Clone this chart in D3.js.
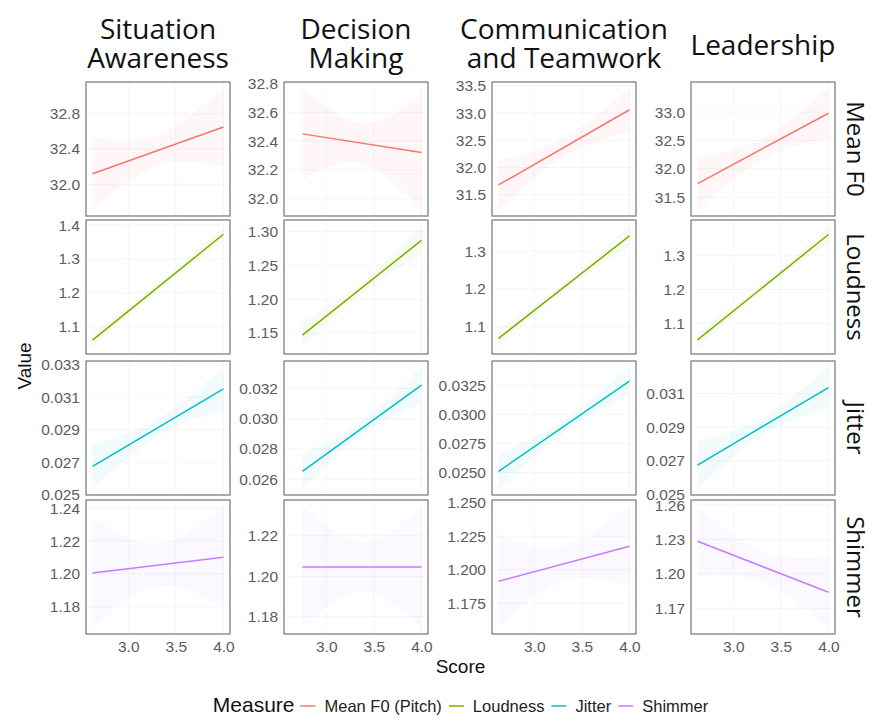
<!DOCTYPE html>
<html>
<head>
<meta charset="utf-8">
<script src="https://cdn.jsdelivr.net/npm/d3@7"></script>
<style>
body { margin: 0; background: #fff; }
</style>
</head>
<body>
<div id="chart"></div>
<script>
// facets: columns are skills, rows are voice measures
var skills = [["Situation", "Awareness"], ["Decision", "Making"], ["Communication", "and Teamwork"], ["Leadership"]]
var measures = ["Mean F0", "Loudness", "Jitter", "Shimmer"]
var legendLabels = ["Mean F0 (Pitch)", "Loudness", "Jitter", "Shimmer"]
var colors = ["#F8766D", "#7CAE00", "#00BFC4", "#C77CFF"]

// score range of each skill column
var scoreStart = [2.625, 2.75, 2.625, 2.625]
var scoreEnd = [4.0, 4.0, 4.0, 4.0]
var xTicks = [3.0, 3.5, 4.0]

// fitted line ends, rows = measures, cols = skills
var fitStart = [
    [32.12, 32.45, 31.68, 31.74],
    [1.061, 1.147, 1.069, 1.051],
    [0.02673, 0.02651, 0.02509, 0.02674],
    [1.2006, 1.2046, 1.1913, 1.2285]
]
var fitEnd = [
    [32.65, 32.32, 33.06, 32.98],
    [1.373, 1.287, 1.34, 1.363],
    [0.03152, 0.03222, 0.03285, 0.03136],
    [1.2102, 1.2046, 1.2175, 1.184]
]

// confidence band at start, middle, end of score range
var bandLow = [
    [[31.709, 32.215, 32.209], [32.132, 32.245, 31.922], [31.222, 32.2, 32.662], [31.277, 32.18, 32.537]],
    [[1.038, 1.207, 1.349], [1.128, 1.209, 1.266], [1.044, 1.1945, 1.314], [1.027, 1.197, 1.338]],
    [[0.02534, 0.02863, 0.03017], [0.02535, 0.02892, 0.03102], [0.02359, 0.02847, 0.03165], [0.02532, 0.02855, 0.03014]],
    [[1.1671, 1.1924, 1.1791], [1.1745, 1.1926, 1.1745], [1.1565, 1.1914, 1.1875], [1.1979, 1.19325, 1.1529]]
]
var bandHigh = [
    [[32.531, 32.555, 33.091], [32.768, 32.525, 32.718], [32.138, 32.54, 33.458], [32.203, 32.54, 33.423]],
    [[1.084, 1.227, 1.397], [1.166, 1.225, 1.308], [1.094, 1.2145, 1.366], [1.075, 1.217, 1.388]],
    [[0.02812, 0.02963, 0.03287], [0.02767, 0.02982, 0.03342], [0.02659, 0.02947, 0.03406], [0.02816, 0.02955, 0.03258]],
    [[1.2341, 1.2184, 1.2413], [1.2347, 1.2166, 1.2347], [1.2261, 1.2174, 1.2475], [1.2591, 1.21925, 1.2151]]
]

var yTicks = [
    [[32.0, 32.4, 32.8], [32.0, 32.2, 32.4, 32.6, 32.8], [31.5, 32.0, 32.5, 33.0, 33.5], [31.5, 32.0, 32.5, 33.0]],
    [[1.1, 1.2, 1.3, 1.4], [1.15, 1.20, 1.25, 1.30], [1.1, 1.2, 1.3], [1.1, 1.2, 1.3]],
    [[0.025, 0.027, 0.029, 0.031, 0.033], [0.026, 0.028, 0.030, 0.032], [0.0250, 0.0275, 0.0300, 0.0325], [0.025, 0.027, 0.029, 0.031]],
    [[1.18, 1.20, 1.22, 1.24], [1.18, 1.20, 1.22], [1.175, 1.200, 1.225, 1.250], [1.17, 1.20, 1.23, 1.26]]
]
var yFormats = [
    [".1f", ".1f", ".1f", ".1f"],
    [".1f", ".2f", ".1f", ".1f"],
    [".3f", ".3f", ".4f", ".3f"],
    [".2f", ".2f", ".3f", ".2f"]
]

var width = 877
var height = 724
var colLeft = [86, 284, 492, 691]
var panelW = 144
var rowTop = [82, 220, 361, 500]
var panelH = 134
var tickFont = "'Liberation Sans', Arial, sans-serif"

var svg = d3.select("#chart").append("svg")
    .attr("width", width)
    .attr("height", height)
    .style("background", "#fff")

function expand(ext) {
    var pad = (ext[1] - ext[0]) * 0.05
    return [ext[0] - pad, ext[1] + pad]
}

var xAll = d3.extent(scoreStart.concat(scoreEnd))

measures.forEach(function(measure, r) {
    skills.forEach(function(skill, c) {
        var g = svg.append("g")
            .attr("transform", "translate(" + colLeft[c] + "," + rowTop[r] + ")")

        var x = d3.scaleLinear().domain(expand(xAll)).range([0, panelW])
        var vals = bandLow[r][c].concat(bandHigh[r][c], [fitStart[r][c], fitEnd[r][c]])
        var y = d3.scaleLinear().domain(expand(d3.extent(vals))).range([panelH, 0])

        // faint grid
        g.selectAll(".gy").data(yTicks[r][c]).join("line")
            .attr("x1", 0).attr("x2", panelW)
            .attr("y1", d => y(d)).attr("y2", d => y(d))
            .attr("stroke", "#f3f3f3").attr("stroke-width", 0.8)
        g.selectAll(".gx").data(xTicks).join("line")
            .attr("y1", 0).attr("y2", panelH)
            .attr("x1", d => x(d)).attr("x2", d => x(d))
            .attr("stroke", "#f3f3f3").attr("stroke-width", 0.8)

        var s0 = scoreStart[c], s1 = scoreEnd[c]
        var bx = [s0, (s0 + s1) / 2, s1]
        var band = bx.map(function(v, i) {
            return {x: v, lo: bandLow[r][c][i], hi: bandHigh[r][c][i]}
        })
        var area = d3.area()
            .x(d => x(d.x))
            .y0(d => y(d.lo))
            .y1(d => y(d.hi))
            .curve(d3.curveNatural)
        g.append("path")
            .datum(band)
            .attr("d", area)
            .attr("fill", colors[r])
            .attr("fill-opacity", 0.055)

        var line = d3.line().x(d => x(d[0])).y(d => y(d[1]))
        g.append("path")
            .datum([[s0, fitStart[r][c]], [s1, fitEnd[r][c]]])
            .attr("d", line)
            .attr("fill", "none")
            .attr("stroke", colors[r])
            .attr("stroke-width", 1.5)

        g.append("rect")
            .attr("width", panelW).attr("height", panelH)
            .attr("fill", "none")
            .attr("stroke", "#767676")
            .attr("stroke-width", 1.2)

        var yAxis = d3.axisLeft(y)
            .tickValues(yTicks[r][c])
            .tickFormat(d3.format(yFormats[r][c]))
            .tickSize(0)
            .tickPadding(6)
        var ya = g.append("g").call(yAxis)
        ya.select(".domain").remove()
        ya.selectAll("text")
            .attr("fill", "#5c5c5c")
            .style("font-family", tickFont)
            .style("font-size", "15.5px")

        if (r == measures.length - 1) {
            var xAxis = d3.axisBottom(x)
                .tickValues(xTicks)
                .tickFormat(d3.format(".1f"))
                .tickSize(0)
                .tickPadding(7)
            var xa = g.append("g").attr("transform", "translate(0," + panelH + ")").call(xAxis)
            xa.select(".domain").remove()
            xa.selectAll("text")
                .attr("fill", "#5c5c5c")
                .style("font-family", tickFont)
                .style("font-size", "15.5px")
        }
    })
})

// column titles
var titleFont = "'Open Sans', sans-serif"
skills.forEach(function(lines, c) {
    var cx = colLeft[c] + panelW / 2
    var t = svg.append("text")
        .attr("text-anchor", "middle")
        .attr("x", cx)
        .attr("y", lines.length == 2 ? 39 : 55)
        .style("font-family", titleFont)
        .style("font-size", "28px")
        .attr("fill", "#111")
    lines.forEach(function(l, i) {
        t.append("tspan").attr("x", cx).attr("dy", i == 0 ? 0 : 29).text(l)
    })
})

// row strips
measures.forEach(function(m, r) {
    var cy = rowTop[r] + panelH / 2
    svg.append("text")
        .attr("transform", "translate(847," + cy + ") rotate(90)")
        .attr("text-anchor", "middle")
        .style("font-family", "'Open Sans', sans-serif")
        .style("font-size", "24px")
        .attr("fill", "#111")
        .text(m)
})

svg.append("text")
    .attr("transform", "translate(31," + ((rowTop[0] + rowTop[3] + panelH) / 2 + 8) + ") rotate(-90)")
    .attr("text-anchor", "middle")
    .style("font-family", tickFont)
    .style("font-size", "19px")
    .attr("fill", "#111")
    .text("Value")

svg.append("text")
    .attr("x", (colLeft[0] + colLeft[3] + panelW) / 2)
    .attr("y", 673)
    .attr("text-anchor", "middle")
    .style("font-family", tickFont)
    .style("font-size", "19px")
    .attr("fill", "#111")
    .text("Score")

// legend
var legend = svg.append("g")
var lx = 0
var ly = 712
var title = legend.append("text")
    .attr("x", lx).attr("y", ly)
    .style("font-family", tickFont)
    .style("font-size", "21px")
    .attr("fill", "#111")
    .text("Measure")
lx += title.node().getComputedTextLength() + 6
legendLabels.forEach(function(lab, i) {
    legend.append("line")
        .attr("x1", lx).attr("x2", lx + 15)
        .attr("y1", ly - 6).attr("y2", ly - 6)
        .attr("stroke", colors[i])
        .attr("stroke-width", 1.5)
    lx += 24
    var t = legend.append("text")
        .attr("x", lx).attr("y", ly)
        .style("font-family", tickFont)
        .style("font-size", "16.5px")
        .attr("fill", "#222")
        .text(lab)
    lx += t.node().getComputedTextLength() + 7
})
var mid = (colLeft[0] + colLeft[3] + panelW) / 2
legend.attr("transform", "translate(" + (mid - (lx - 7) / 2) + ",0)")
</script>
</body>
</html>
